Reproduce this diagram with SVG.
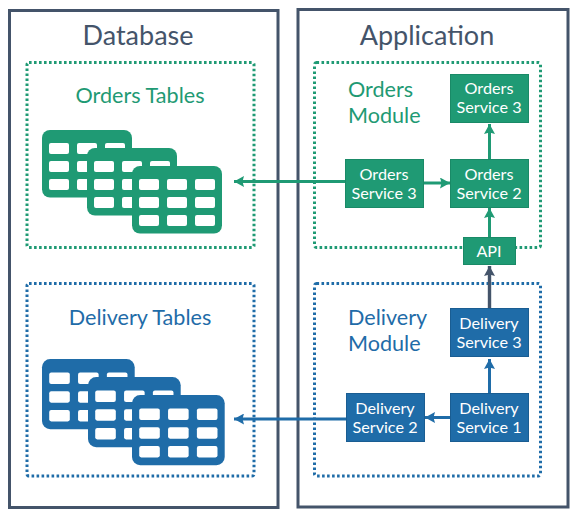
<svg xmlns="http://www.w3.org/2000/svg" xmlns:xlink="http://www.w3.org/1999/xlink" width="579" height="519" viewBox="0 0 579 519">
<style>
text{font-family:Lato,"Open Sans","Liberation Sans",sans-serif}
.frame{fill:none;stroke:#44546a;stroke-width:3}
.title{font-size:27px;fill:#44546a;text-anchor:middle}
.zone{fill:none;stroke-width:3;stroke-dasharray:2.6 2.4}
.zone.g{stroke:#1f9a74}
.zone.b{stroke:#1f6ca8}
.lab{font-size:21.6px}
.lab.g{fill:#1f9a74}
.lab.b{fill:#1f6ca8}
.box{stroke-width:1}
.box.g{fill:#1f9a74;stroke:#1a8a67}
.box.b{fill:#1f6ca8;stroke:#1a5d92}
.svc{font-size:16.2px;fill:#fff;text-anchor:middle}
.t.g{fill:#1f9a74}
.t.b{fill:#1f6ca8}
.cell{fill:#fff}
.cn{fill:none;stroke-width:3}
.cn.g{stroke:#1f9a74;marker-end:url(#ag)}
.cn.b{stroke:#1f6ca8;marker-end:url(#ab)}
.cn.d{stroke:#44546a;stroke-width:3.4;marker-end:url(#ad)}
</style>
<defs>
<marker id="ag" markerUnits="userSpaceOnUse" markerWidth="11" markerHeight="11" refX="10" refY="5.5" orient="auto"><path d="M0 0L10 5.5L0 11L1.5 5.5Z" fill="#1f9a74"/></marker>
<marker id="ab" markerUnits="userSpaceOnUse" markerWidth="11" markerHeight="11" refX="10" refY="5.5" orient="auto"><path d="M0 0L10 5.5L0 11L1.5 5.5Z" fill="#1f6ca8"/></marker>
<marker id="ad" markerUnits="userSpaceOnUse" markerWidth="11" markerHeight="11" refX="10" refY="5.5" orient="auto"><path d="M0 0L10 5.5L0 11L1.5 5.5Z" fill="#44546a"/></marker>
<g id="tbl">
<rect width="90" height="67.5" rx="8"/>
<g class="cell">
<rect x="7" y="13" width="20" height="11" rx="2"/><rect x="35" y="13" width="20" height="11" rx="2"/><rect x="63" y="13" width="20" height="11" rx="2"/>
<rect x="7" y="31" width="20" height="11" rx="2"/><rect x="35" y="31" width="20" height="11" rx="2"/><rect x="63" y="31" width="20" height="11" rx="2"/>
<rect x="7" y="49" width="20" height="11" rx="2"/><rect x="35" y="49" width="20" height="11" rx="2"/><rect x="63" y="49" width="20" height="11" rx="2"/>
</g>
</g>
</defs>
<rect width="579" height="519" fill="#fff"/>
<g id="database">
<rect class="frame" x="9.5" y="10.5" width="268.5" height="497"/>
<text class="title" x="138" y="45">Database</text>
</g>
<g id="application">
<rect class="frame" x="298" y="9.5" width="270" height="497.5"/>
<text class="title" x="427" y="45">Application</text>
</g>
<g id="orders-tables">
<rect class="zone g" x="27" y="62.5" width="227" height="185" rx="2"/>
<text class="lab g" x="140" y="103" text-anchor="middle">Orders Tables</text>
<g class="t g"><use xlink:href="#tbl" href="#tbl" x="42" y="130"/><use xlink:href="#tbl" href="#tbl" x="87" y="148"/><use xlink:href="#tbl" href="#tbl" x="132" y="166"/></g>
</g>
<g id="delivery-tables">
<rect class="zone b" x="27" y="283.5" width="227" height="192.5" rx="2"/>
<text class="lab b" x="140" y="325" text-anchor="middle">Delivery Tables</text>
<g class="t b"><use xlink:href="#tbl" href="#tbl" transform="translate(42 359) scale(1.03 1.04)"/><use xlink:href="#tbl" href="#tbl" transform="translate(88 377) scale(1.03 1.04)"/><use xlink:href="#tbl" href="#tbl" transform="translate(132 395) scale(1.03 1.04)"/></g>
</g>
<g id="orders-module">
<rect class="zone g" x="314.5" y="62.5" width="226" height="185" rx="2"/>
<text class="lab g" x="348" y="97">Orders</text>
<text class="lab g" x="348" y="123">Module</text>
</g>
<g id="delivery-module">
<rect class="zone b" x="314.5" y="283.5" width="226" height="192.5" rx="2"/>
<text class="lab b" x="348" y="325">Delivery</text>
<text class="lab b" x="348" y="351">Module</text>
</g>
<g id="connectors">
<path class="cn g" d="M346 181.5H234"/>
<path class="cn g" d="M424 183H450"/>
<path class="cn g" d="M489.5 159.5V124"/>
<path class="cn g" d="M489.5 237V208"/>
<path class="cn d" d="M489.5 308V266"/>
<path class="cn b" d="M489.5 393.5V359"/>
<path class="cn b" d="M450 417.5H425"/>
<path class="cn b" d="M346 419H234"/>
</g>
<g id="svc-orders-3b"><rect class="box g" x="450.5" y="74.5" width="78" height="48"/><text class="svc" x="489" y="94">Orders</text><text class="svc" x="489" y="113">Service 3</text></g>
<g id="svc-orders-2"><rect class="box g" x="450.5" y="159.5" width="78" height="48"/><text class="svc" x="489" y="180">Orders</text><text class="svc" x="489" y="199">Service 2</text></g>
<g id="svc-orders-3a"><rect class="box g" x="345.5" y="159.5" width="78" height="48"/><text class="svc" x="384" y="180">Orders</text><text class="svc" x="384" y="199">Service 3</text></g>
<g id="api"><rect class="box g" x="463.5" y="237.5" width="52" height="27"/><text class="svc" x="489" y="257">API</text></g>
<g id="svc-delivery-3"><rect class="box b" x="450.5" y="308.5" width="78" height="48"/><text class="svc" x="489" y="329">Delivery</text><text class="svc" x="489" y="348">Service 3</text></g>
<g id="svc-delivery-1"><rect class="box b" x="450.5" y="393.5" width="78" height="48"/><text class="svc" x="489" y="414">Delivery</text><text class="svc" x="489" y="433">Service 1</text></g>
<g id="svc-delivery-2"><rect class="box b" x="346.5" y="393.5" width="78" height="48"/><text class="svc" x="385" y="414">Delivery</text><text class="svc" x="385" y="433">Service 2</text></g>
</svg>
